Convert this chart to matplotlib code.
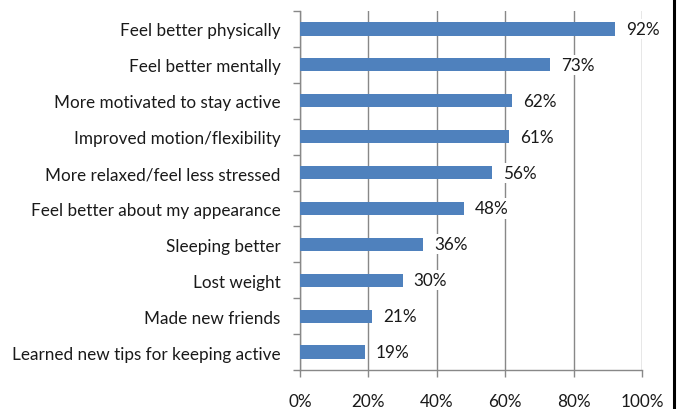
import matplotlib
matplotlib.use("Agg")
import matplotlib.pyplot as plt
from matplotlib.ticker import FixedLocator
from matplotlib.lines import Line2D

categories = ["Feel better physically", "Feel better mentally", "More motivated to stay active",
              "Improved motion/flexibility", "More relaxed/feel less stressed",
              "Feel better about my appearance", "Sleeping better", "Lost weight",
              "Made new friends", "Learned new tips for keeping active"]
values = [92, 73, 62, 61, 56, 48, 36, 30, 21, 19]
xticks = [0, 20, 40, 60, 80, 100]
xticklabels = ["0%", "20%", "40%", "60%", "80%", "100%"]

plt.rcParams['font.family'] = ['Lato', 'DejaVu Sans']
FS = 12.3
TC = "#1a1a1a"

fig = plt.figure(figsize=(6.78, 4.10), dpi=100)
ax = fig.add_axes([300/678, 1-371/410, 342/678, 359/410])

n = len(categories)
ypos = list(range(n))[::-1]
ax.barh(ypos, values, height=0.37, color="#4F81BD", zorder=3)
for y, v in zip(ypos, values):
    ax.annotate(f"{v}%", (v, y), xytext=(8, 0), textcoords="offset points",
                va="center", ha="left", fontsize=FS, color=TC, zorder=5,
                bbox=dict(facecolor="white", edgecolor="none", pad=1.5))

ax.set_xlim(0, 100)
ax.set_ylim(-0.5, n - 0.5)
ax.set_xticks(xticks)
ax.set_xticklabels(xticklabels, fontsize=FS, color=TC)
ax.set_yticks(ypos)
ax.set_yticklabels(categories, fontsize=FS, color=TC)
ax.tick_params(axis='y', length=0, pad=14)
ax.yaxis.set_minor_locator(FixedLocator([i - 0.5 for i in range(n + 1)]))
ax.tick_params(axis='y', which='minor', length=5, color="#888888", width=1)
ax.tick_params(axis='x', length=5, color="#888888", width=1, pad=11.5)
ax.grid(axis='x', color="#888888", linewidth=1, zorder=0)
for s in ['top', 'right']:
    ax.spines[s].set_visible(False)
for s in ['left', 'bottom']:
    ax.spines[s].set_color("#888888")
    ax.spines[s].set_linewidth(1)

fig.add_artist(Line2D([673.5/678, 673.5/678], [0, 1], transform=fig.transFigure,
                      color="black", linewidth=2.2))

fig.savefig("out.png", dpi=100)
